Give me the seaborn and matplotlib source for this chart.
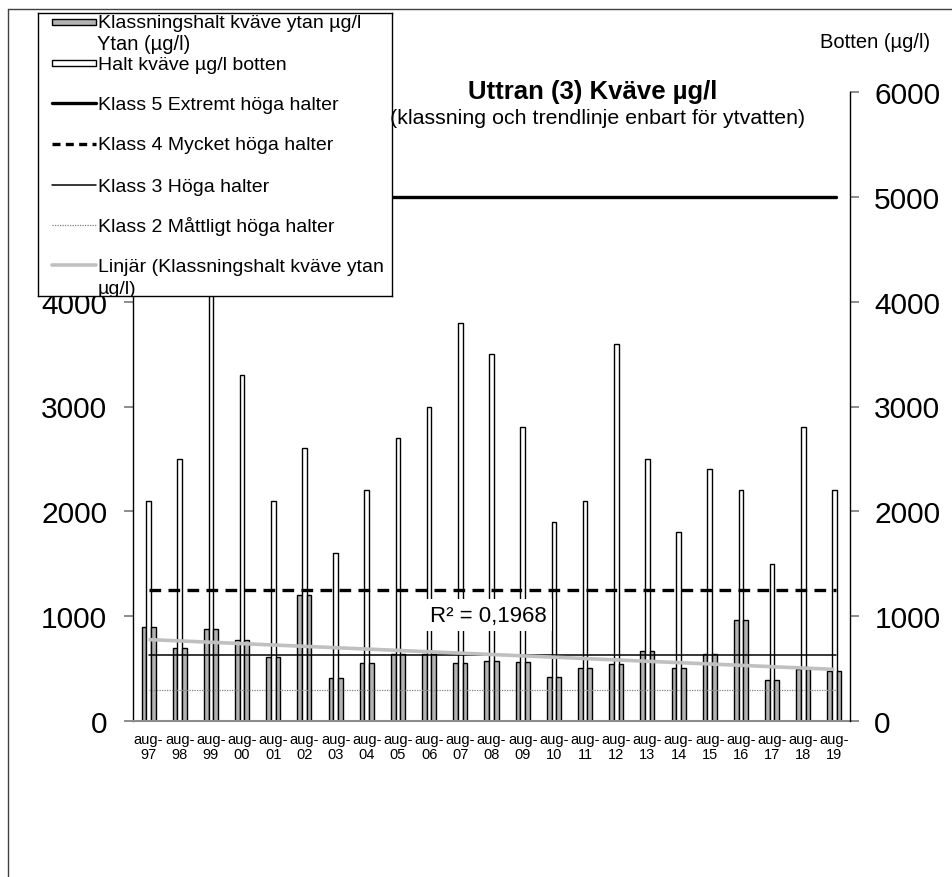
import numpy as np
import pandas as pd
import matplotlib
matplotlib.use("Agg")
import matplotlib.pyplot as plt
from matplotlib.lines import Line2D
from matplotlib.patches import Rectangle
import seaborn as sns

# ---- data ----
years = ["97", "98", "99", "00", "01", "02", "03", "04", "05", "06", "07", "08",
         "09", "10", "11", "12", "13", "14", "15", "16", "17", "18", "19"]
tick_labels = [f"aug-\n{y}" for y in years]
ytan = [900, 700, 880, 770, 610, 1200, 410, 550, 640, 640, 550, 575,
        565, 415, 505, 545, 670, 505, 640, 965, 390, 495, 475]
botten = [2100, 2500, 4600, 3300, 2100, 2600, 1600, 2200, 2700, 3000, 3800, 3500,
          2800, 1900, 2100, 3600, 2500, 1800, 2400, 2200, 1500, 2800, 2200]
klass5 = 5000
klass4 = 1250
klass3 = 625
klass2 = 300
r2_text = "R² = 0,1968"

s_ytan = "Klassningshalt kväve ytan µg/l"
s_botten = "Halt kväve µg/l botten"
s_ytan2 = "Ytan (µg/l)"

df = pd.concat([
    pd.DataFrame({"år": tick_labels, "serie": s_ytan, "värde": ytan}),
    pd.DataFrame({"år": tick_labels, "serie": s_botten, "värde": botten}),
    pd.DataFrame({"år": tick_labels, "serie": s_ytan2, "värde": ytan}),
])

sns.set_style("white")
plt.rcParams["font.family"] = ["Liberation Sans", "DejaVu Sans"]
plt.rcParams["text.color"] = "black"
plt.rcParams["xtick.labelcolor"] = "black"
plt.rcParams["ytick.labelcolor"] = "black"

W, H = 953, 878
fig = plt.figure(figsize=(W / 100, H / 100), dpi=100)

def fx(px):
    return px / W

def fy(py):
    return 1 - py / H

ax = fig.add_axes([fx(133), fy(722), fx(850) - fx(133), fy(93) - fy(722)])

gray = "#b3b3b3"
sns.barplot(data=df, x="år", y="värde", hue="serie",
            hue_order=[s_ytan, s_botten, s_ytan2],
            palette={s_ytan: gray, s_botten: "white", s_ytan2: gray},
            width=0.45, gap=0, edgecolor="black", linewidth=1.0,
            legend=False, ax=ax, zorder=2)

n = len(years)
xs = np.arange(n)
x0, x1 = 0.0, n - 1 + 0.05

# classification levels
ax.plot([x0, x1], [klass5, klass5], color="black", lw=2.4, zorder=4)
ax.plot([x0, x1], [klass4, klass4], color="black", lw=2.4, ls=(0, (3.5, 2.2)), zorder=4)
ax.plot([x0, x1], [klass3, klass3], color="black", lw=1.1, zorder=4)
ax.plot([x0, x1], [klass2, klass2], color="#808080", lw=0.9, ls=(0, (1, 1)), zorder=4)

# linear trend of the surface values
k, m = np.polyfit(xs, ytan, 1)
ax.plot([x0, n - 1], [m + k * x0, m + k * (n - 1)], color="#c0c0c0", lw=2.6,
        solid_capstyle="butt", zorder=5)

ax.text(10.9, 1010, r2_text, fontsize=16, ha="center", va="center", zorder=6,
        bbox=dict(boxstyle="square,pad=0.25", facecolor="white", edgecolor="none"))

ax.set_xlim(-0.5, n - 0.5)
ax.set_ylim(0, 6000)
ax.set_xlabel("")
ax.set_ylabel("")
ax.set_xticks(xs)
ax.set_xticklabels(tick_labels, fontsize=10.5, linespacing=1.05)
ax.set_xticks(np.arange(-0.5, n, 1), minor=True)
ax.tick_params(axis="x", which="major", length=0, pad=8)
ax.tick_params(axis="x", which="minor", length=4, width=1.2, color="#8c8c8c", direction="out")
ax.set_yticks(range(0, 7000, 1000))
ax.tick_params(axis="y", which="major", length=6.5, width=1.4, color="#8c8c8c",
               direction="out", labelsize=21.5, pad=12, left=True)
for s in ["top", "right"]:
    ax.spines[s].set_visible(False)
ax.spines["left"].set_color("black")
ax.spines["left"].set_linewidth(1.0)
ax.spines["bottom"].set_color("#8c8c8c")
ax.spines["bottom"].set_linewidth(1.5)

ax2 = ax.twinx()
ax2.set_ylim(0, 6000)
ax2.set_yticks(range(0, 7000, 1000))
ax2.tick_params(axis="y", which="major", length=6.5, width=1.4, color="#8c8c8c",
                direction="out", labelsize=21.5, pad=11, right=True)
for s in ["top", "left", "bottom"]:
    ax2.spines[s].set_visible(False)
ax2.spines["right"].set_color("black")
ax2.spines["right"].set_linewidth(1.0)
ax2.grid(False)

# titles
fig.text(fx(593), fy(92), "Uttran (3) Kväve µg/l", fontsize=18.5, fontweight="bold",
         ha="center", va="center", zorder=20)
fig.text(fx(598), fy(119), "(klassning och trendlinje enbart för ytvatten)",
         fontsize=15.4, ha="center", va="center", zorder=20)
fig.text(fx(820), fy(43), "Botten (µg/l)", fontsize=14.5, ha="left", va="center", zorder=20)

# legend box
lx0, lx1, ly0, ly1 = 38, 392, 14, 297
lax = fig.add_axes([fx(lx0), fy(ly1), fx(lx1) - fx(lx0), fy(ly0) - fy(ly1)])
lax.set_zorder(10)
lax.set_xlim(lx0, lx1)
lax.set_ylim(ly1, ly0)
lax.set_xticks([])
lax.set_yticks([])
lax.set_facecolor("white")
for s in lax.spines.values():
    s.set_color("black")
    s.set_linewidth(1.0)

kx0, kx1, tx = 52, 96, 98
fs_leg = 14
lax.add_patch(Rectangle((kx0, 20), kx1 - kx0, 6, facecolor=gray, edgecolor="black", lw=1.0))
lax.text(tx, 24, s_ytan, fontsize=fs_leg, va="center", ha="left")
lax.add_patch(Rectangle((kx0, 61), kx1 - kx0, 6, facecolor="white", edgecolor="black", lw=1.0))
lax.text(tx, 65, s_botten, fontsize=fs_leg, va="center", ha="left")
entries = [
    (104, dict(color="black", lw=2.4), "Klass 5 Extremt höga halter"),
    (145, dict(color="black", lw=2.4, ls=(0, (2.4, 1.6))), "Klass 4 Mycket höga halter"),
    (186, dict(color="black", lw=1.1), "Klass 3 Höga halter"),
    (226, dict(color="#808080", lw=0.9, ls=(0, (1, 1))), "Klass 2 Måttligt höga halter"),
    (266, dict(color="#c0c0c0", lw=2.6), None),
]
for y, style, label in entries:
    lax.add_line(Line2D([kx0, kx1], [y, y], **style))
    if label:
        lax.text(tx, y + 1, label, fontsize=fs_leg, va="center", ha="left")
lax.text(tx, 267, "Linjär (Klassningshalt kväve ytan", fontsize=fs_leg, va="center", ha="left")
lax.text(tx, 289, "µg/l)", fontsize=fs_leg, va="center", ha="left", clip_on=True)

fig.text(fx(97), fy(45), "Ytan (µg/l)", fontsize=14.5, ha="left", va="center", zorder=20)

# chart area border
fig.add_artist(Line2D([fx(8), fx(8)], [fy(10), 0], color="#404040", lw=1.0))
fig.add_artist(Line2D([fx(8), 1], [fy(10), fy(10)], color="#404040", lw=1.0))

fig.savefig("out.png", dpi=100, facecolor="white")
